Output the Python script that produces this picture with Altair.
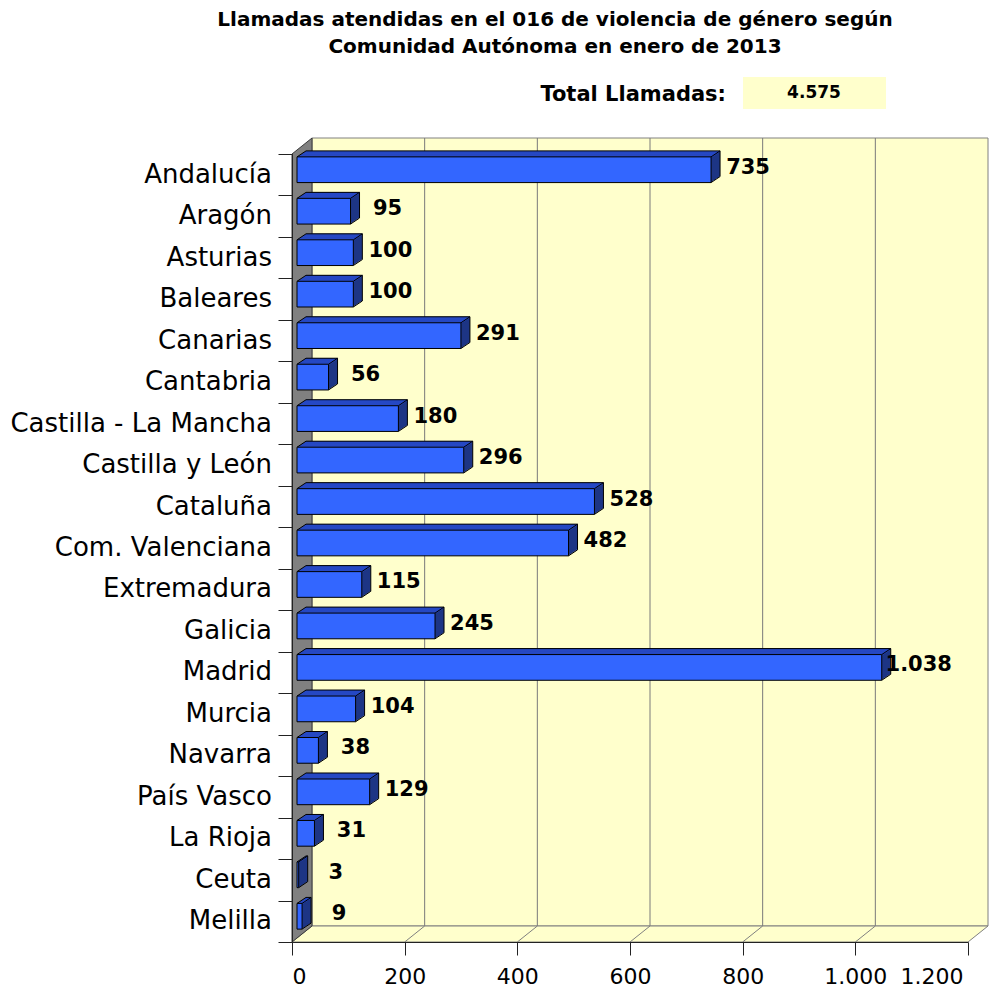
import altair as alt
import pandas as pd

# ---------------- data ----------------
regions = ["Andalucía", "Aragón", "Asturias", "Baleares", "Canarias", "Cantabria",
           "Castilla - La Mancha", "Castilla y León", "Cataluña", "Com. Valenciana",
           "Extremadura", "Galicia", "Madrid", "Murcia", "Navarra", "País Vasco",
           "La Rioja", "Ceuta", "Melilla"]
calls = [735, 95, 100, 100, 291, 56, 180, 296, 528, 482, 115, 245, 1038, 104, 38, 129, 31, 3, 9]
x_ticks = [0, 200, 400, 600, 800, 1000, 1200]
title_lines = ["Llamadas atendidas en el 016 de violencia de género según",
               "Comunidad Autónoma en enero de 2013"]
total_label = "Total Llamadas:"

# ---------------- styling / geometry ----------------
W, H = 676, 788          # front plane of the plot
DX, DY = 20, 16          # wall depth
BX, BY = 5, 5            # bar front-face offset
BDX, BDY = 9, 6          # bar depth
HALF = 0.31
FRONT = "#3366FF"
TOP = "#2649C4"
SIDE = "#1D3585"
WALL = "#FFFFCC"
FONT = "DejaVu Sans"

n = len(regions)
df = pd.DataFrame({"region": regions, "calls": calls, "row": list(range(n))})
df["label"] = [f"{v:,}".replace(",", ".") for v in calls]
total_text = f"{sum(calls):,}".replace(",", ".")

x_scale = alt.Scale(domain=[0, 1200], nice=False, zero=False)
y_scale = alt.Scale(domain=[-0.5, n - 0.5], reverse=True, nice=False, zero=False)
x_axis = alt.Axis(values=x_ticks, grid=False, title=None, domainColor="#222222",
                  tickColor="#222222", tickSize=13, labelFont=FONT, labelFontSize=22,
                  labelColor="black", labelPadding=11, zindex=1,
                  labelOffset={"condition": {"test": f"datum.value == {x_ticks[-1]}", "value": -5},
                               "value": 0},
                  labelExpr="replace(format(datum.value, ','), ',', '.')")
y_axis = alt.Axis(values=[i - 0.5 for i in range(n + 1)], grid=False, title=None,
                  labels=False, domainColor="#222222", tickColor="#222222",
                  tickSize=14, zindex=1)

one = pd.DataFrame({"k": [0]})
grid_df = pd.DataFrame({"t": x_ticks[1:-1]})

base = alt.Chart(df).transform_calculate(
    y0=f"datum.row - {HALF}", y1=f"datum.row + {HALF}", x0="0")

layers = []

# back wall
layers.append(alt.Chart(one).mark_rect(fill=WALL, stroke="#808080", strokeWidth=1).encode(
    x=alt.value(DX), x2=alt.value(W + DX), y=alt.value(-DY), y2=alt.value(H - DY)))
# gridlines on the back wall
layers.append(alt.Chart(grid_df).mark_rule(color="#7a7a7a", strokeWidth=1, xOffset=DX).encode(
    x=alt.X("t:Q", scale=x_scale, axis=x_axis), y=alt.value(-DY), y2=alt.value(H - DY)))
# floor
floor_path = f"M0,0L{W},0L{W + DX},{-DY}L{DX},{-DY}Z"
layers.append(alt.Chart(one).mark_point(shape=floor_path, size=4, filled=True, fill=WALL,
                                        stroke="#808080", strokeWidth=1, opacity=1).encode(
    x=alt.value(0), y=alt.value(H)))
# floor diagonals
layers.append(alt.Chart(grid_df).mark_rule(color="#808080", strokeWidth=1, x2Offset=DX).encode(
    x=alt.X("t:Q", scale=x_scale, axis=x_axis), x2="t:Q", y=alt.value(H), y2=alt.value(H - DY)))
# left wall
wall_path = f"M0,0L{DX},{-DY}L{DX},{H - DY}L0,{H}Z"
layers.append(alt.Chart(one).mark_point(shape=wall_path, size=4, filled=True, fill="#808080",
                                        stroke="#3a3a3a", strokeWidth=1, opacity=1).encode(
    x=alt.value(0), y=alt.value(0)))

enc = dict(x=alt.X("x0:Q", scale=x_scale, axis=x_axis), x2="calls:Q",
           y=alt.Y("y0:Q", scale=y_scale, axis=y_axis), y2="y1:Q")

# bar body (side colour), extruded
r = BDY / BDX
for k in range(1, BDX + 1):
    layers.append(base.mark_rect(color=SIDE, strokeWidth=0,
                                 xOffset=BX + k, x2Offset=BX + k,
                                 yOffset=-BY - k * r, y2Offset=-BY - k * r).encode(**enc))
# top faces
for k in range(1, BDX + 1):
    layers.append(base.mark_rect(color=TOP, strokeWidth=0,
                                 xOffset=BX + k, x2Offset=BX + k,
                                 yOffset=-BY - k * r, y2Offset=-BY - (k - 1) * r + 0.6).encode(
        x=alt.X("x0:Q", scale=x_scale, axis=x_axis), x2="calls:Q",
        y=alt.Y("y0:Q", scale=y_scale, axis=y_axis), y2="y0:Q"))

# outlines of depth faces
rule_style = dict(color="black", strokeWidth=1)
layers.append(base.mark_rule(**rule_style, xOffset=BX + BDX, x2Offset=BX + BDX,
                             yOffset=-BY - BDY).encode(
    x=alt.X("x0:Q", scale=x_scale, axis=x_axis), x2="calls:Q",
    y=alt.Y("y0:Q", scale=y_scale, axis=y_axis)))
layers.append(base.mark_rule(**rule_style, xOffset=BX + BDX,
                             yOffset=-BY - BDY, y2Offset=-BY - BDY).encode(
    x=alt.X("calls:Q", scale=x_scale, axis=x_axis),
    y=alt.Y("y0:Q", scale=y_scale, axis=y_axis), y2="y1:Q"))
for xf, yf in [("x0", "y0"), ("calls", "y0"), ("calls", "y1")]:
    layers.append(base.mark_rule(**rule_style, xOffset=BX, x2Offset=BX + BDX,
                                 yOffset=-BY, y2Offset=-BY - BDY).encode(
        x=alt.X(f"{xf}:Q", scale=x_scale, axis=x_axis), x2=f"{xf}:Q",
        y=alt.Y(f"{yf}:Q", scale=y_scale, axis=y_axis), y2=f"{yf}:Q"))

# front faces
layers.append(base.mark_rect(color=FRONT, stroke="black", strokeWidth=1,
                             xOffset=BX, x2Offset=BX, yOffset=-BY, y2Offset=-BY).encode(**enc))

# value labels
layers.append(base.mark_text(font=FONT, fontSize=21, fontWeight="bold", color="black",
                             align="center", baseline="alphabetic", dx=42, dy=-1).encode(
    x=alt.X("calls:Q", scale=x_scale, axis=x_axis),
    y=alt.Y("row:Q", scale=y_scale, axis=y_axis), text="label:N"))

# category labels
layers.append(base.mark_text(font=FONT, fontSize=26, color="black", align="right",
                             baseline="alphabetic", dy=8).encode(
    x=alt.value(-20), y=alt.Y("row:Q", scale=y_scale, axis=y_axis), text="region:N"))

# titles
for i, line in enumerate(title_lines):
    layers.append(alt.Chart(one).mark_text(text=line, font=FONT, fontSize=20, fontWeight="bold",
                                           color="black", align="center", baseline="alphabetic").encode(
        x=alt.value(263), y=alt.value(-128 + 27 * i)))

# total box
layers.append(alt.Chart(one).mark_rect(fill=WALL).encode(
    x=alt.value(451), x2=alt.value(594), y=alt.value(-77), y2=alt.value(-45)))
layers.append(alt.Chart(one).mark_text(text=total_label, font=FONT, fontSize=21, fontWeight="bold",
                                       color="black", align="right", baseline="middle").encode(
    x=alt.value(434), y=alt.value(-59)))
layers.append(alt.Chart(one).mark_text(text=total_text, font=FONT, fontSize=17, fontWeight="bold",
                                       color="black", align="center", baseline="middle").encode(
    x=alt.value(522), y=alt.value(-61)))

chart = alt.layer(*layers).properties(
    width=W, height=H,
    autosize=alt.AutoSizeParams(type="none"),
    padding={"left": 284, "top": 146, "right": 28, "bottom": 46},
    background="white",
).configure_view(stroke=None)

chart.save("out.html", embed_options={"renderer": "svg", "actions": False})
